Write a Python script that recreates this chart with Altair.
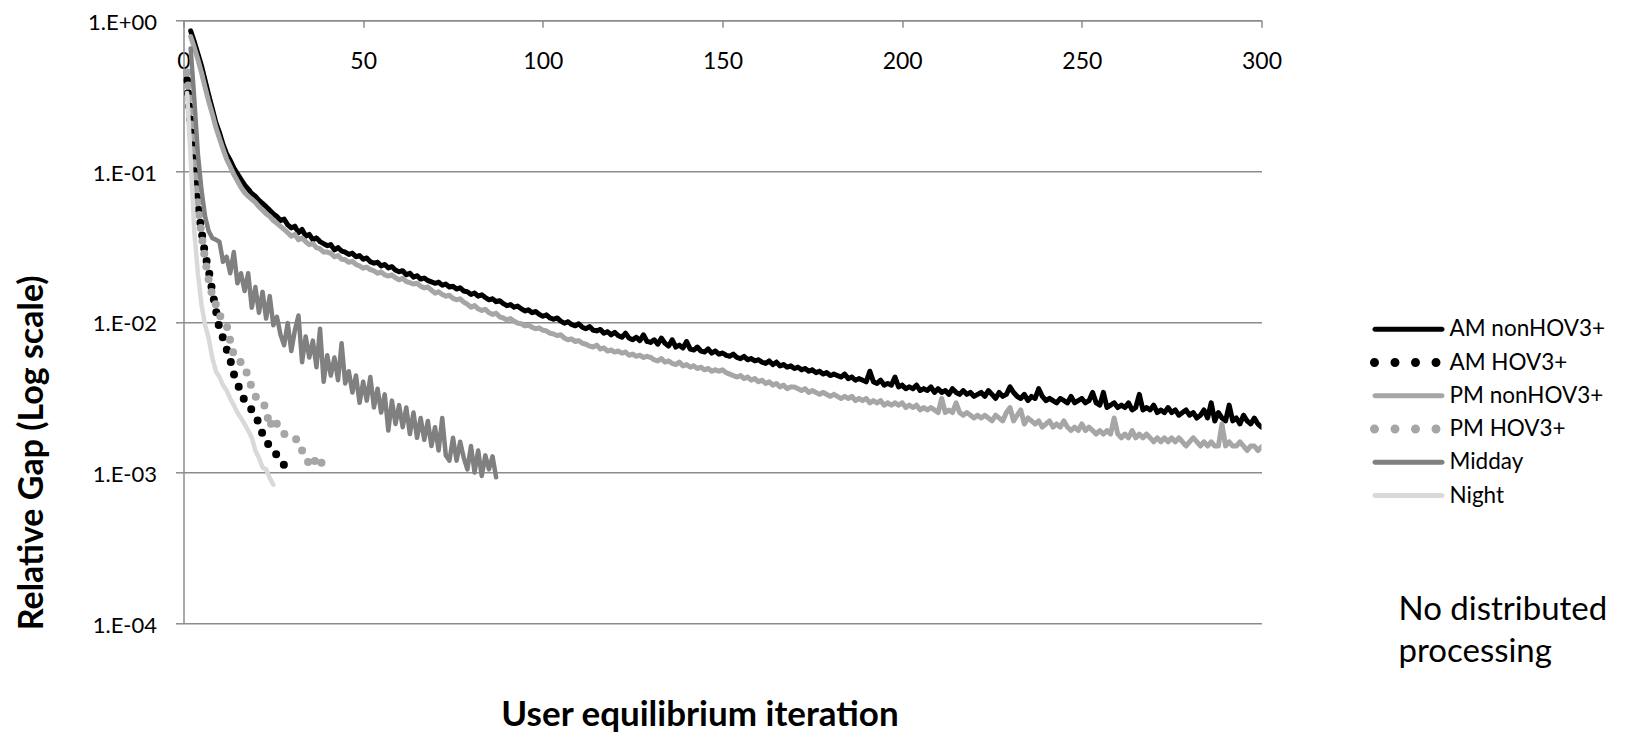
import altair as alt
import pandas as pd

SERIES = ["AM nonHOV3+", "AM HOV3+", "PM nonHOV3+", "PM HOV3+", "Midday", "Night"]
COLORS = ["#000000", "#000000", "#a6a6a6", "#a6a6a6", "#808080", "#d9d9d9"]
DASHES = [[1, 0], [0, 13], [1, 0], [0, 13], [1, 0], [1, 0]]
WIDTHS = [5, 8, 5, 8, 4.5, 4.5]

X_TICKS = [0, 50, 100, 150, 200, 250, 300]
Y_TICKS = [1e-4, 1e-3, 1e-2, 1e-1, 1]

NOTE = "No distributed\nprocessing"

# AM nonHOV3+ : iterations 2..300
AM_NON_START = 2
AM_NON = [
    0.85, 0.72, 0.60, 0.50, 0.40, 0.32, 0.26, 0.21, 0.18, 0.15,
    0.13, 0.118, 0.105, 0.096, 0.088, 0.081, 0.076, 0.071, 0.068, 0.064,
    0.061, 0.058, 0.055, 0.052, 0.05, 0.047, 0.048, 0.044, 0.042, 0.043,
    0.039, 0.041, 0.037, 0.038, 0.035, 0.036, 0.034, 0.033, 0.032, 0.0325,
    0.030, 0.031, 0.0295, 0.029, 0.028, 0.0285, 0.027, 0.0275, 0.026, 0.0265,
    0.025, 0.0245, 0.0248, 0.0235, 0.024, 0.0228, 0.0232, 0.022, 0.0215, 0.0218,
    0.0205, 0.021, 0.0198, 0.0202, 0.0192, 0.0195, 0.0188, 0.0184, 0.018, 0.0183,
    0.0175, 0.0178, 0.017, 0.0172, 0.0165, 0.0168, 0.016, 0.0158, 0.0152, 0.0155,
    0.0148, 0.0151, 0.0145, 0.014, 0.0142, 0.0136, 0.0138, 0.0132, 0.0128, 0.013,
    0.0125, 0.0127, 0.0122, 0.0118, 0.012, 0.0115, 0.0117, 0.0112, 0.0109, 0.0111,
    0.0106, 0.0104, 0.0106, 0.0101, 0.0098, 0.01, 0.0096, 0.0094, 0.0097, 0.0092,
    0.009, 0.0093, 0.0088, 0.0087, 0.0089, 0.0084, 0.0086, 0.0082, 0.0085, 0.0081,
    0.0079, 0.0084, 0.0078, 0.0076, 0.0079, 0.0075, 0.0082, 0.0074, 0.0073, 0.0076,
    0.0071, 0.0078, 0.0072, 0.0069, 0.0076, 0.0068, 0.007, 0.0067, 0.0074, 0.0066,
    0.0065, 0.0068, 0.0064, 0.0063, 0.0066, 0.0062, 0.0064, 0.0061, 0.0062, 0.006,
    0.0059, 0.0061, 0.0058, 0.0057, 0.0059, 0.0056, 0.0057, 0.0055, 0.0056, 0.0054,
    0.0053, 0.0055, 0.0052, 0.0054, 0.0051, 0.0052, 0.0050, 0.0051, 0.0049, 0.0050,
    0.0048, 0.0049, 0.0047, 0.0048, 0.0046, 0.0047, 0.0045, 0.0046, 0.0044, 0.0045,
    0.0044, 0.0043, 0.0045, 0.0042, 0.0043, 0.0041, 0.0042, 0.0041, 0.004, 0.0047,
    0.004, 0.0039, 0.0041, 0.0038, 0.0039, 0.0038, 0.0043, 0.0037, 0.0038, 0.0036,
    0.0037, 0.0036, 0.0038, 0.0035, 0.0036, 0.0035, 0.0037, 0.0034, 0.0036, 0.0034,
    0.0035, 0.0033, 0.0036, 0.0034, 0.0033, 0.0035, 0.0033, 0.0034, 0.0032, 0.0033,
    0.0034, 0.0032, 0.0035, 0.0033, 0.0031, 0.0034, 0.0032, 0.0033, 0.0037, 0.0034,
    0.0032, 0.0031, 0.0033, 0.0030, 0.0032, 0.0031, 0.0036, 0.0032, 0.0030, 0.0031,
    0.0030, 0.0029, 0.0031, 0.0030, 0.0029, 0.0032, 0.0029, 0.0030, 0.0031, 0.0029,
    0.0030, 0.0034, 0.0029, 0.0028, 0.0034, 0.0027, 0.0028, 0.0029, 0.0027, 0.0028,
    0.0027, 0.0029, 0.0026, 0.0027, 0.0033, 0.0026, 0.0027, 0.0026, 0.0028, 0.0025,
    0.0026, 0.0025, 0.0027, 0.0025, 0.0026, 0.0024, 0.0025, 0.0026, 0.0024, 0.0025,
    0.0023, 0.0024, 0.0026, 0.0023, 0.0029, 0.0022, 0.0025, 0.0023, 0.0022, 0.0028,
    0.0022, 0.0023, 0.0021, 0.0024, 0.0022, 0.0021, 0.0023, 0.0021, 0.0020,
]

# AM HOV3+ : iterations 1..31
AM_HOV_START = 1
AM_HOV = [
    0.40, 0.20, 0.10, 0.06, 0.04, 0.028, 0.022, 0.016, 0.012, 0.009,
    0.0078, 0.0066, 0.0056, 0.0045, 0.0039, 0.0034, 0.003, 0.0028, 0.0026, 0.0024,
    0.0021, 0.0018, 0.0016, 0.0015, 0.0014, 0.0013, 0.0012, 0.00112, 0.00108, 0.00105,
    0.00103,
]

# PM nonHOV3+ : iterations 2..300
PM_NON_START = 2
PM_NON = [
    0.78, 0.66, 0.55, 0.45, 0.36, 0.29, 0.24, 0.195, 0.165, 0.14,
    0.12, 0.107, 0.095, 0.086, 0.078, 0.072, 0.068, 0.065, 0.062, 0.058,
    0.055, 0.052, 0.05, 0.047, 0.045, 0.043, 0.041, 0.039, 0.037, 0.038,
    0.035, 0.036, 0.034, 0.0325, 0.033, 0.031, 0.0305, 0.029, 0.029, 0.0285,
    0.027, 0.0275, 0.026, 0.0258, 0.0248, 0.0252, 0.024, 0.0235, 0.0227, 0.023,
    0.0222, 0.0218, 0.021, 0.0214, 0.0205, 0.0201, 0.0204, 0.0196, 0.019, 0.0194,
    0.0185, 0.0182, 0.0178, 0.018, 0.0172, 0.0168, 0.017, 0.0162, 0.0155, 0.0158,
    0.0152, 0.0148, 0.015, 0.0143, 0.014, 0.0142, 0.0135, 0.0131, 0.0125, 0.0128,
    0.0122, 0.0119, 0.0121, 0.0115, 0.0112, 0.0114, 0.0108, 0.0106, 0.0103, 0.0105,
    0.0101, 0.0098, 0.0097, 0.0094, 0.0095, 0.0092, 0.009, 0.0091, 0.0088, 0.0087,
    0.0084, 0.0083, 0.0081, 0.0082, 0.0078, 0.0076, 0.0077, 0.0074, 0.0075, 0.0072,
    0.0071, 0.0069, 0.0068, 0.0070, 0.0066, 0.0067, 0.0064, 0.0065, 0.0063, 0.0064,
    0.0062, 0.0063, 0.006, 0.0061, 0.0059, 0.006, 0.0058, 0.0059, 0.0058, 0.0056,
    0.0055, 0.0057, 0.0054, 0.0055, 0.0053, 0.0052, 0.0054, 0.0051, 0.0052, 0.005,
    0.0051, 0.0049, 0.005, 0.0048, 0.0049, 0.0047, 0.0048, 0.0047, 0.0048, 0.0046,
    0.0045, 0.0044, 0.0043, 0.0044, 0.0042, 0.0043, 0.0041, 0.0042, 0.004, 0.0041,
    0.0039, 0.004, 0.0038, 0.0039, 0.0037, 0.0038, 0.0036, 0.0037, 0.0037, 0.0036,
    0.0035, 0.0036, 0.0034, 0.0035, 0.0034, 0.0033, 0.0034, 0.0033, 0.0032, 0.0033,
    0.0032, 0.0031, 0.0032, 0.0031, 0.0032, 0.0030, 0.0031, 0.0030, 0.0031, 0.0029,
    0.0030, 0.0029, 0.0030, 0.0028, 0.0029, 0.0028, 0.0029, 0.0028, 0.0029, 0.0027,
    0.0028, 0.0027, 0.0028, 0.0026, 0.0027, 0.0026, 0.0027, 0.0026, 0.0025, 0.0031,
    0.0025, 0.0026, 0.0025, 0.0029, 0.0025, 0.0024, 0.0025, 0.0024, 0.0023, 0.0024,
    0.0023, 0.0024, 0.0023, 0.0022, 0.0024, 0.0023, 0.0022, 0.0025, 0.0027, 0.0022,
    0.0024, 0.0026, 0.0021, 0.0023, 0.0022, 0.0021, 0.0022, 0.0020, 0.0021, 0.0022,
    0.0020, 0.0021, 0.0020, 0.0022, 0.0020, 0.0019, 0.0020, 0.0019, 0.0021, 0.0019,
    0.0020, 0.0019, 0.0018, 0.0019, 0.0018, 0.0019, 0.0018, 0.0023, 0.0018, 0.0017,
    0.0018, 0.0017, 0.0019, 0.0017, 0.0018, 0.0017, 0.0018, 0.0017, 0.0016, 0.0017,
    0.0016, 0.0017, 0.0016, 0.0017, 0.0016, 0.0017, 0.0016, 0.0015, 0.0016, 0.0017,
    0.0016, 0.0015, 0.0016, 0.0015, 0.0016, 0.0015, 0.0015, 0.0021, 0.0015, 0.0016,
    0.0015, 0.0015, 0.0016, 0.0015, 0.0014, 0.0015, 0.0015, 0.0014, 0.00148,
]

# PM HOV3+ : iterations 1..40
PM_HOV_START = 1
PM_HOV = [
    0.45, 0.22, 0.11, 0.06, 0.038, 0.026, 0.019, 0.015, 0.013, 0.011,
    0.0105, 0.0095, 0.0075, 0.006, 0.0055, 0.0054, 0.0052, 0.0042, 0.0037, 0.0032,
    0.0031, 0.0030, 0.0026, 0.0020, 0.0023, 0.0021, 0.0019, 0.0018, 0.00178, 0.00175,
    0.0017, 0.0016, 0.0014, 0.0013, 0.00112, 0.0011, 0.00128, 0.0012, 0.0011, 0.00100,
]

# Midday : iterations 2..87
MIDDAY_START = 2
MIDDAY = [
    0.65, 0.3, 0.13, 0.075, 0.05, 0.04, 0.036, 0.035, 0.034, 0.025,
    0.027, 0.021, 0.029, 0.018, 0.021, 0.016, 0.021, 0.0124, 0.017, 0.0115,
    0.0158, 0.0105, 0.0148, 0.0095, 0.0108, 0.0082, 0.0070, 0.0098, 0.0064, 0.0088,
    0.0110, 0.0054, 0.0080, 0.0058, 0.0075, 0.0050, 0.0090, 0.0040, 0.0060, 0.0044,
    0.0058, 0.0041, 0.0072, 0.0039, 0.0047, 0.0034, 0.0044, 0.0029, 0.0040, 0.0030,
    0.0043, 0.0027, 0.0036, 0.0025, 0.0033, 0.0019, 0.0030, 0.0021, 0.0028, 0.0020,
    0.0027, 0.0018, 0.0025, 0.0017, 0.0023, 0.00165, 0.0022, 0.0015, 0.0020, 0.0014,
    0.0023, 0.0013, 0.0012, 0.0017, 0.0012, 0.0016, 0.00125, 0.00105, 0.0015, 0.001,
    0.0014, 0.00095, 0.0013, 0.00105, 0.00128, 0.00093,
]

# Night : iterations 1..25
NIGHT_START = 1
NIGHT = [
    0.33, 0.12, 0.04, 0.021, 0.013, 0.0095, 0.0078, 0.0058, 0.0047, 0.0043,
    0.0038, 0.0035, 0.0031, 0.0028, 0.0025, 0.0023, 0.0021, 0.0019, 0.0017, 0.0014,
    0.00125, 0.00108, 0.00105, 0.00092, 0.00083,
]

STARTS = [AM_NON_START, AM_HOV_START, PM_NON_START, PM_HOV_START, MIDDAY_START, NIGHT_START]
VALUES = [AM_NON, AM_HOV, PM_NON, PM_HOV, MIDDAY, NIGHT]

rows = []
for k, (name, start, vals) in enumerate(zip(SERIES, STARTS, VALUES)):
    for i, v in enumerate(vals):
        rows.append({"series": name, "k": k, "iter": start + i, "gap": v})
df = pd.DataFrame(rows)

# legend symbol shapes: unit coordinates, scaled by sqrt(symbolSize)/2 = 16 px
U = 16.0


def _line_shape(half_len=36.0, half_thick=2.5):
    h = half_thick / U
    e = (half_len - half_thick) / U
    return (f"M{-e:.4f},{-h:.4f}L{e:.4f},{-h:.4f}A{h:.4f},{h:.4f},0,0,1,{e:.4f},{h:.4f}"
            f"L{-e:.4f},{h:.4f}A{h:.4f},{h:.4f},0,0,1,{-e:.4f},{-h:.4f}Z")


def _dots_shape(centers_px=(-34.0, -13.5, 7.0, 27.5), r_px=4.5):
    r = r_px / U
    parts = []
    for cp in centers_px:
        c = cp / U
        parts.append(f"M{c - r:.4f},0A{r:.4f},{r:.4f},0,1,0,{c + r:.4f},0"
                     f"A{r:.4f},{r:.4f},0,1,0,{c - r:.4f},0Z")
    return "".join(parts)


SHAPES = [_line_shape(), _dots_shape(), _line_shape(), _dots_shape(), _line_shape(), _line_shape()]

FONT = "Lato"
GRID = "#8c8c8c"
W, H = 1078, 603

LEG = alt.Legend(
    orient="none", legendX=1209, legendY=293, title=None, padding=0,
    symbolSize=int(4 * U * U), symbolStrokeWidth=0, symbolOpacity=1, rowPadding=5.25,
    labelFont=FONT, labelFontSize=22.5, labelColor="#000000", labelOffset=25,
    labelLimit=400,
)

x_enc = alt.X(
    "iter:Q",
    scale=alt.Scale(domain=[0, 300], nice=False, zero=False),
    axis=alt.Axis(
        orient="bottom", offset=-H, values=X_TICKS, grid=False,
        tickSize=7, tickColor=GRID, tickWidth=1.5, domainColor=GRID, domainWidth=1.5,
        labelPadding=34, labelBaseline="middle", labelFont=FONT, labelFontSize=23,
        labelColor="#000000", labelFlush=False, labelOverlap=False,
        title="User equilibrium iteration", titleFont=FONT, titleFontSize=35,
        titleFontWeight="bold", titleColor="#000000", titleX=516, titleY=705,
        titleAlign="center", titleBaseline="alphabetic", titleAngle=0,
    ),
)
y_enc = alt.Y(
    "gap:Q",
    scale=alt.Scale(type="log", domain=[1e-4, 1], nice=False),
    axis=alt.Axis(
        values=Y_TICKS, grid=True, gridColor=GRID, gridWidth=1.5,
        tickSize=8, tickColor=GRID, tickWidth=1.5, domainColor=GRID, domainWidth=1.5,
        labelExpr="datum.value >= 1 ? '1.E+00' : '1.E-0' + (-round(log(datum.value) / LN10))",
        labelPadding=19, labelFont=FONT, labelFontSize=22, labelOffset=2,
        labelColor="#000000",
        title="Relative Gap (Log scale)", titleFont=FONT, titleFontSize=34,
        titleFontWeight="bold", titleColor="#000000", titleX=-141, titleY=432,
        titleAlign="center", titleBaseline="alphabetic", titleAngle=-90,
    ),
)

lines = alt.Chart(df).mark_line(strokeCap="round", strokeJoin="round", clip=True).encode(
    x=x_enc,
    y=y_enc,
    color=alt.Color("series:N", scale=alt.Scale(domain=SERIES, range=COLORS), legend=None),
    strokeDash=alt.StrokeDash("series:N", scale=alt.Scale(domain=SERIES, range=DASHES), legend=None),
    strokeWidth=alt.StrokeWidth("series:N", scale=alt.Scale(type="ordinal", domain=SERIES, range=WIDTHS), legend=None),
    order=alt.Order("iter:Q"),
)

# legend-only layer (no marks drawn: every row is filtered out)
legend_layer = alt.Chart(df).transform_filter("false").mark_point(
    filled=True, opacity=1, strokeWidth=0
).encode(
    color=alt.Color("series:N", scale=alt.Scale(domain=SERIES, range=COLORS), legend=LEG),
    shape=alt.Shape("series:N", scale=alt.Scale(domain=SERIES, range=SHAPES), legend=LEG),
)

note = alt.Chart(pd.DataFrame({"t": [NOTE]})).mark_text(
    align="left", baseline="alphabetic", font=FONT, fontSize=33, color="#000000",
    lineBreak="\n", lineHeight=42,
).encode(
    text="t:N",
    x=alt.value(1215),
    y=alt.value(600),
)

chart = alt.layer(lines, legend_layer, note).resolve_legend(
    color="independent", shape="independent",
    strokeDash="independent", strokeWidth="independent",
).properties(
    width=W, height=H,
    autosize=alt.AutoSizeParams(type="none"),
    padding={"left": 175.5, "top": 12.3, "right": 355, "bottom": 110},
    background="white",
).configure_view(stroke=None)

chart.save("out.html", embed_options={"renderer": "svg", "actions": False})
